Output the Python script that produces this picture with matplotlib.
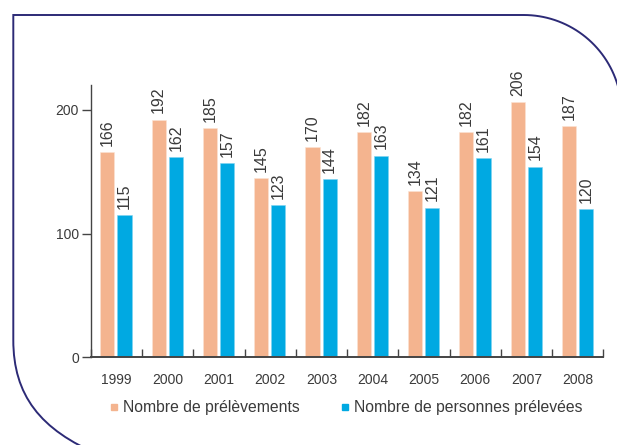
import matplotlib
matplotlib.use('Agg')
import matplotlib.pyplot as plt
import numpy as np
from matplotlib.path import Path
from matplotlib.patches import PathPatch
from matplotlib.lines import Line2D

# ---- data ----
years = ['1999', '2000', '2001', '2002', '2003', '2004', '2005', '2006', '2007', '2008']
prelevements = [166, 192, 185, 145, 170, 182, 134, 182, 206, 187]
personnes = [115, 162, 157, 123, 144, 163, 121, 161, 154, 120]
series_labels = ['Nombre de prélèvements', 'Nombre de personnes prélevées']
y_ticks = [0, 100, 200]

# ---- style ----
ORANGE = '#F4B48F'
BLUE = '#00A9E2'
TXT = '#3a3a3a'
AXC = '#444444'
FRAME = '#2c2a76'
plt.rcParams['font.family'] = ['Liberation Sans', 'DejaVu Sans']

W, H = 617, 445
fig = plt.figure(figsize=(W / 100, H / 100), dpi=100)
fig.patch.set_facecolor('white')

def fx(px):
    return px / W

def fy(py):
    return 1 - py / H

ax = fig.add_axes([fx(90.7), fy(357.3), fx(603.5) - fx(90.7), fy(85) - fy(357.3)])

x = np.arange(len(years))
w = 0.275
xo = x - 0.175
xb = x + 0.16
ax.bar(xo, prelevements, w, color=ORANGE, edgecolor='#fbe3d4', linewidth=0.4)
ax.bar(xb, personnes, w, color=BLUE, edgecolor='#7fd4f0', linewidth=0.4)

for xi, v in zip(xo, prelevements):
    ax.annotate(str(v), (xi, v), xytext=(0, 4.5), textcoords='offset points',
                rotation=90, ha='center', va='bottom', fontsize=11.5, color=TXT)
for xi, v in zip(xb, personnes):
    ax.annotate(str(v), (xi, v), xytext=(0, 4.5), textcoords='offset points',
                rotation=90, ha='center', va='bottom', fontsize=11.5, color=TXT)

ax.set_xlim(-0.5, len(years) - 0.5)
ax.set_ylim(0, 220)
ax.set_yticks(y_ticks)
ax.set_yticklabels([str(t) for t in y_ticks])
ax.tick_params(axis='y', direction='out', length=6.5, width=1, colors=AXC,
               labelcolor=TXT, labelsize=10, pad=2)
ax.set_xticks(x)
ax.set_xticklabels(years)
ax.tick_params(axis='x', which='major', length=0, pad=11, labelsize=10, labelcolor=TXT)
ax.set_xticks(np.arange(-0.5, len(years), 1), minor=True)
ax.tick_params(axis='x', which='minor', direction='in', length=5.5, width=1, colors=AXC)

for s in ['top', 'right']:
    ax.spines[s].set_visible(False)
ax.spines['left'].set_color(AXC)
ax.spines['bottom'].set_color(AXC)
ax.spines['left'].set_linewidth(1.0)
ax.spines['bottom'].set_linewidth(1.4)

handles = [Line2D([], [], marker='s', ls='none', markersize=5, color=ORANGE),
           Line2D([], [], marker='s', ls='none', markersize=5, color=BLUE)]
leg = fig.legend(handles, series_labels, loc='center', bbox_to_anchor=(fx(346), fy(407.7)),
                 ncol=2, frameon=False, fontsize=11.3, handletextpad=0.25,
                 columnspacing=2.6, handlelength=0.6, borderpad=0)
for t in leg.get_texts():
    t.set_color(TXT)

# ---- decorative frame ----
cx, cy, R = 523.7, 113.0, 98.0
th = np.linspace(0, np.pi / 2, 40)
arc = [(cx + R * np.sin(t), cy - R * np.cos(t)) for t in th]
verts = [(100, 455), (40, 430), (13.3, 395), (13.3, 340), (13.3, 15)] + arc + [(cx + R, 520)]
codes = [Path.MOVETO, Path.CURVE4, Path.CURVE4, Path.CURVE4, Path.LINETO] + \
        [Path.LINETO] * len(arc) + [Path.LINETO]
verts = [(fx(a), fy(b)) for a, b in verts]
frame = PathPatch(Path(verts, codes), transform=fig.transFigure, facecolor='none',
                  edgecolor=FRAME, linewidth=1.4, clip_on=False)
fig.patches.append(frame)

fig.savefig('out.png', dpi=100)
